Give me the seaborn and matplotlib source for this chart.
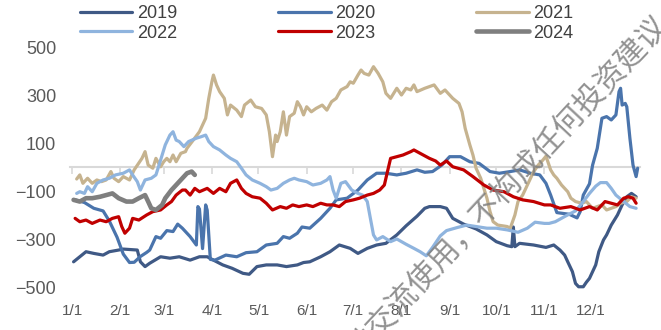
import matplotlib
matplotlib.use("Agg")
import matplotlib.pyplot as plt
import matplotlib.dates as mdates
import matplotlib.ticker as mticker
import numpy as np
import pandas as pd
import seaborn as sns

# ---- data: spread level by calendar day (MM-DD), one series per year ----
dates_2019 = ["01-02","01-10","01-15","01-21","01-25","01-31","02-03","02-12","02-14","02-17","02-20","02-27",
              "03-05","03-11","03-18","03-24","03-29","04-02","04-08","04-14","04-21","04-25","04-30","05-06",
              "05-13","05-19","05-26","05-30","06-03","06-10","06-16","06-22","06-29","07-04","07-10","07-16",
              "07-22","07-29","08-04","08-11","08-16","08-19","08-26","08-30","09-03","09-10","09-18","09-25",
              "10-01","10-08","10-11","10-12","10-13","10-16","10-25","11-02","11-07","11-11","11-14","11-16",
              "11-19","11-21","11-23","11-26","11-28","11-30","12-04","12-06","12-09","12-11","12-14","12-18",
              "12-21","12-24","12-27","12-30"]
values_2019 = [-395,-353,-360,-367,-353,-346,-342,-346,-395,-415,-401,-374,
               -380,-374,-388,-374,-374,-388,-408,-422,-443,-447,-415,-408,
               -408,-415,-408,-398,-395,-374,-353,-325,-339,-360,-339,-325,
               -318,-283,-245,-205,-172,-165,-165,-172,-214,-238,-258,-283,
               -311,-328,-332,-250,-332,-318,-325,-335,-325,-346,-367,-395,
               -436,-485,-499,-499,-480,-464,-408,-353,-304,-283,-242,-200,
               -158,-124,-110,-124]

dates_2020 = ["01-02","01-09","01-15","01-21","01-25","01-30","02-03","02-07","02-10","02-14","02-18","02-20",
              "02-24","02-27","03-03","03-07","03-10","03-13","03-18","03-22","03-23","03-24","03-26","03-28",
              "03-29","03-31","04-03","04-10","04-17","04-23","04-30","05-06","05-13","05-17","05-21","05-26",
              "05-29","06-03","06-10","06-16","06-20","06-27","07-04","07-10","07-16","07-22","07-29","08-04",
              "08-11","08-16","08-21","08-27","09-01","09-08","09-14","09-20","09-27","10-03","10-10","10-16",
              "10-23","10-29","11-02","11-05","11-09","11-17","11-22","11-24","11-26","11-30","12-02","12-05",
              "12-08","12-11","12-14","12-17","12-19","12-20","12-21","12-23","12-24","12-26","12-28","12-30",
              "12-31"]
values_2020 = [-135,-148,-172,-183,-225,-293,-363,-398,-397,-373,-356,-346,
               -290,-297,-265,-269,-238,-255,-290,-325,-165,-175,-340,-158,
               -180,-385,-388,-367,-374,-357,-353,-325,-318,-290,-297,-276,
               -250,-255,-214,-172,-137,-130,-96,-54,-26,-26,-33,-26,
               -12,-22,-19,8,43,43,22,15,-19,-26,-19,-12,
               -26,-33,-68,-117,-190,-197,-212,-186,-117,-70,8,78,
               203,210,196,217,314,328,258,265,251,120,8,-40,
               -5]

dates_2021 = ["01-04","01-06","01-08","01-11","01-14","01-17","01-20","01-23","01-26","01-28","01-31","02-03",
              "02-07","02-10","02-15","02-17","02-19","02-22","02-24","02-27","03-01","03-03","03-05","03-07",
              "03-09","03-12","03-15","03-16","03-20","03-24","03-28","03-30","04-01","04-02","04-04","04-06",
              "04-09","04-11","04-13","04-17","04-20","04-22","04-26","04-29","05-03","05-06","05-08","05-10",
              "05-12","05-13","05-15","05-17","05-19","05-21","05-24","05-26","05-28","05-30","06-01","06-04",
              "06-07","06-11","06-14","06-17","06-20","06-23","06-27","06-29","07-01","07-04","07-06","07-08",
              "07-11","07-14","07-17","07-20","07-22","07-25","07-29","08-01","08-04","08-07","08-09","08-11",
              "08-16","08-19","08-22","08-26","08-29","09-01","09-03","09-07","09-09","09-11","09-14","09-16",
              "09-18","09-21","09-23","09-25","09-27","09-29","10-02","10-08","10-10","10-13","10-15","10-18",
              "10-21","10-25","10-28","10-31","11-02","11-05","11-07","11-09","11-12","11-14","11-16","11-18",
              "11-21","11-25","11-28","11-30","12-02","12-05","12-08","12-11","12-14","12-17","12-20","12-24",
              "12-27","12-30"]
values_2021 = [-50,-33,-68,-47,-68,-54,-61,-54,-19,-47,-61,-40,
               -54,-12,36,64,8,-5,36,1,22,36,22,50,
               22,57,64,78,112,147,203,286,355,383,342,314,
               286,217,258,237,210,258,279,251,244,217,147,43,
               133,106,147,230,133,210,224,272,251,217,251,230,
               244,258,237,272,286,321,335,355,349,383,404,390,
               383,418,390,355,307,286,328,300,328,321,342,314,
               328,335,342,307,321,300,286,265,230,161,92,50,
               -5,-47,-89,-130,-186,-228,-242,-248,-255,-200,-144,-117,
               -75,-20,8,29,45,-12,-33,-47,-75,-89,-103,-130,
               -144,-151,-144,-158,-172,-165,-158,-179,-172,-165,-151,-144,
               -124,-130]

dates_2022 = ["01-04","01-06","01-09","01-11","01-14","01-17","01-21","01-25","01-29","02-03","02-07","02-09",
              "02-12","02-14","02-17","02-21","02-24","02-26","02-28","03-02","03-05","03-07","03-09","03-11",
              "03-14","03-17","03-22","03-25","03-28","03-30","04-02","04-06","04-10","04-13","04-17","04-20",
              "04-23","04-27","05-02","05-06","05-09","05-13","05-17","05-21","05-24","05-27","06-01","06-05",
              "06-10","06-14","06-16","06-18","06-20","06-23","06-26","06-30","07-04","07-07","07-10","07-12",
              "07-14","07-16","07-20","07-25","07-29","08-04","08-09","08-13","08-17","08-21","08-26","08-30",
              "09-06","09-12","09-18","09-25","10-01","10-08","10-15","10-21","10-26","11-01","11-04","11-08",
              "11-15","11-21","11-26","11-30","12-04","12-07","12-11","12-14","12-17","12-22","12-26","12-30"]
values_2022 = [-110,-103,-110,-82,-103,-68,-54,-47,-33,-26,-12,-33,
               -61,-96,-54,-47,-33,8,50,92,133,147,112,106,
               85,106,120,126,133,106,85,71,50,36,22,-5,
               -33,-54,-68,-82,-96,-89,-68,-54,-47,-54,-61,-75,
               -68,-54,-40,-96,-130,-68,-61,-96,-110,-117,-144,-214,
               -283,-304,-290,-311,-300,-322,-339,-353,-370,-335,-287,-265,
               -252,-242,-248,-255,-255,-262,-272,-255,-230,-235,-235,-228,
               -203,-183,-144,-110,-80,-65,-65,-89,-117,-144,-165,-172]

dates_2023 = ["01-03","01-06","01-10","01-14","01-19","01-23","01-27","01-31","02-02","02-04","02-07","02-09",
              "02-13","02-18","02-22","02-27","03-03","03-06","03-09","03-13","03-15","03-18","03-21","03-24",
              "03-29","04-02","04-06","04-10","04-13","04-17","04-20","04-23","04-27","05-02","05-06","05-10",
              "05-15","05-19","05-23","05-27","06-01","06-05","06-10","06-14","06-18","06-22","06-26","07-01",
              "07-05","07-10","07-14","07-18","07-21","07-23","07-25","07-29","08-02","08-07","08-09","08-13",
              "08-17","08-19","08-23","08-26","08-30","09-03","09-10","09-16","09-23","09-29","10-06","10-12",
              "10-18","10-25","11-01","11-05","11-11","11-18","11-24","11-30","12-05","12-10","12-14","12-18",
              "12-22","12-25","12-28","12-30"]
values_2023 = [-214,-228,-221,-235,-221,-228,-214,-207,-248,-276,-255,-214,
               -221,-200,-186,-179,-158,-144,-117,-96,-96,-117,-89,-103,
               -89,-110,-89,-103,-68,-54,-89,-110,-124,-130,-151,-179,
               -165,-172,-158,-165,-158,-165,-151,-158,-158,-165,-144,-137,
               -130,-117,-110,-96,-75,-19,36,43,50,64,71,57,
               43,36,25,8,25,1,-12,-40,-75,-96,-103,-124,
               -137,-144,-158,-158,-172,-165,-179,-165,-179,-144,-151,-158,
               -130,-124,-130,-151]

dates_2024 = ["01-02","01-06","01-10","01-14","01-19","01-23","01-27","01-31","02-05","02-09","02-13","02-17",
              "02-19","02-21","02-24","02-28","03-02","03-06","03-09","03-12","03-16","03-19","03-21"]
values_2024 = [-137,-144,-130,-130,-124,-117,-110,-130,-144,-144,-130,-117,
               -144,-172,-179,-158,-130,-96,-75,-54,-26,-19,-33]

years = ["2019", "2020", "2021", "2022", "2023", "2024"]
colors = {"2019": "#3F5985", "2020": "#4A74AC", "2021": "#C6B38F",
          "2022": "#8FB4DE", "2023": "#C00000", "2024": "#7F7F7F"}
widths = {"2019": 2.3, "2020": 2.3, "2021": 2.3, "2022": 2.3, "2023": 2.3, "2024": 3.3}

month_ticks = ["01-01", "02-01", "03-01", "04-01", "05-01", "06-01",
               "07-01", "08-01", "09-01", "10-01", "11-01", "12-01"]
month_labels = ["1/1", "2/1", "3/1", "4/1", "5/1", "6/1",
                "7/1", "8/1", "9/1", "10/1", "11/1", "12/1"]
y_ticks = [500, 300, 100, -100, -300, -500]

series = {
    "2019": (dates_2019, values_2019),
    "2020": (dates_2020, values_2020),
    "2021": (dates_2021, values_2021),
    "2022": (dates_2022, values_2022),
    "2023": (dates_2023, values_2023),
    "2024": (dates_2024, values_2024),
}

def to_day(md):
    # map month-day onto a common (non-leap) calendar year
    return pd.Timestamp("2001-" + md)

frames = []
for yr, (d, v) in series.items():
    frames.append(pd.DataFrame({"date": [to_day(s) for s in d], "value": v, "year": yr}))
df = pd.concat(frames, ignore_index=True)

sns.set_theme(style="white")
plt.rcParams["font.family"] = ["Liberation Sans", "DejaVu Sans"]

fig = plt.figure(figsize=(6.61, 3.30), dpi=100)
ax = fig.add_axes([70 / 661, 1 - 293 / 330, 570 / 661, 252 / 330])

handles = {}
for yr in years:
    sub = df[df["year"] == yr]
    sns.lineplot(data=sub, x="date", y="value", ax=ax, color=colors[yr],
                 linewidth=widths[yr], label=yr, legend=False,
                 solid_joinstyle="round", solid_capstyle="round")
    handles[yr] = ax.lines[-1]

start = pd.Timestamp("2001-01-01")
ax.set_xlim(start - pd.Timedelta(days=1.3), start + pd.Timedelta(days=365.5))
ax.set_ylim(-525, 525)

ax.xaxis.set_major_locator(mticker.FixedLocator([mdates.date2num(to_day(m)) for m in month_ticks]))
ax.xaxis.set_major_formatter(mticker.FixedFormatter(month_labels))
ax.yaxis.set_major_locator(mticker.FixedLocator(y_ticks))
ax.yaxis.set_major_formatter(mticker.FuncFormatter(lambda v, p: f"{int(v)}".replace("-", "\u2212")))

ax.tick_params(axis="x", length=0, pad=8, labelsize=11, labelcolor="#595959")
ax.tick_params(axis="y", length=0, pad=10, labelsize=13, labelcolor="#595959")
for s in ax.spines.values():
    s.set_visible(False)
ax.set_xlabel("")
ax.set_ylabel("")
ax.grid(False)

# zero baseline with downward month ticks
zero_axis = ax.secondary_xaxis(0, transform=ax.transData)
zero_axis.spines["bottom"].set_color("#D9D9D9")
zero_axis.spines["bottom"].set_linewidth(1.5)
zero_axis.xaxis.set_major_locator(mticker.FixedLocator([mdates.date2num(to_day(m)) for m in month_ticks]))
zero_axis.tick_params(axis="x", direction="out", length=5, width=1.2, color="#D9D9D9", labelbottom=False)
zero_axis.set_zorder(0.5)

order = ["2019", "2022", "2020", "2023", "2021", "2024"]
fig.legend([handles[y] for y in order], order, loc="upper left",
           bbox_to_anchor=(80 / 661, 1 - 5 / 330), ncol=3, frameon=False,
           fontsize=13, handlelength=2.9, handletextpad=0.25, columnspacing=5.6,
           labelspacing=0.15, borderpad=0, borderaxespad=0, labelcolor="#404040")

fig.text(497 / 661, 1 - 200 / 330, "仅供交流使用，不构成任何投资建议",
         family=["Noto Sans CJK SC", "DejaVu Sans"], fontsize=22, color="#7F7F7F",
         alpha=0.85, rotation=47, rotation_mode="anchor", ha="center", va="center", zorder=10)

fig.savefig("out.png", dpi=100)
